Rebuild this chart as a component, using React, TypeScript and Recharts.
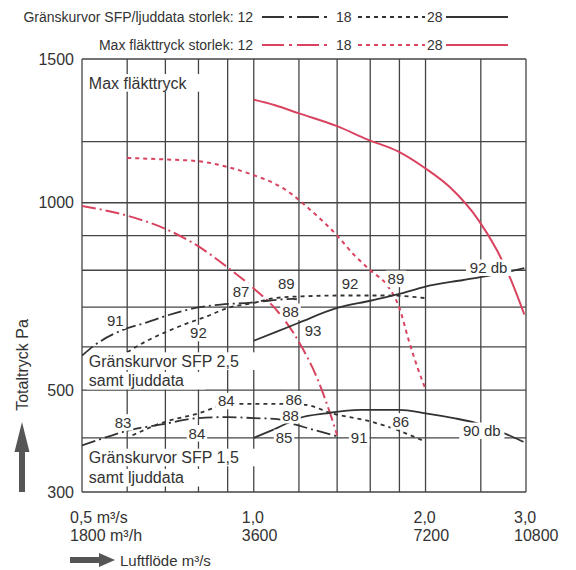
import React from 'react';
import { LineChart, Line, XAxis, YAxis, CartesianGrid, ReferenceDot } from 'recharts';

const FONT = "'Liberation Sans', Arial, Helvetica, sans-serif";
const INK = '#333';
const GRID = '#444';
const RED = '#d9435f';

// grid / tick values
const xGrid = [0.5, 0.6, 0.7, 0.8, 0.9, 1.0, 1.2, 1.4, 1.6, 1.8, 2.0, 2.5, 3.0];
const yGrid = [300, 400, 500, 600, 700, 800, 900, 1000, 1200, 1500];
const yLabelled = [300, 500, 1000, 1500];
const xLabelled = [0.5, 1.0, 2.0, 3.0];
const xTickTop = ['0,5 m³/s', '1,0', '2,0', '3,0'];
const xTickBottom = ['1800 m³/h', '3600', '7200', '10800'];

// Max fläkttryck, storlek 12 / 18 / 28  [m3/s, Pa]
const maxFan12 = [[0.5, 990], [0.6, 960], [0.7, 920], [0.8, 868], [0.9, 808], [1.0, 750], [1.1, 690], [1.2, 612], [1.29, 528], [1.38, 428], [1.4, 405]];
const maxFan18 = [[0.6, 1145], [0.7, 1140], [0.8, 1134], [0.9, 1115], [1.0, 1088], [1.09, 1060], [1.17, 1025], [1.21, 1003], [1.4, 900], [1.5, 843], [1.6, 800], [1.72, 755], [1.8, 698], [1.87, 615], [1.94, 548], [2.0, 502]];
const maxFan28 = [[1.0, 1348], [1.09, 1328], [1.2, 1299], [1.4, 1254], [1.58, 1208], [1.79, 1167], [2.0, 1110], [2.21, 1048], [2.48, 945], [2.67, 856], [2.81, 781], [2.98, 681]];

// Gränskurvor SFP 2,5
const sfp25_12 = [[0.5, 579], [0.526, 604], [0.59, 642], [0.65, 661], [0.7, 677], [0.79, 698], [0.875, 707], [0.99, 712], [1.06, 717], [1.17, 722], [1.19, 721]];
const sfp25_18 = [[0.6, 587], [0.65, 615], [0.7, 636], [0.76, 657], [0.83, 677], [0.9, 698], [0.99, 710], [1.09, 724], [1.23, 729], [1.44, 731], [1.72, 731], [2.0, 724]];
const sfp25_28 = [[1.0, 615], [1.1, 638], [1.2, 660], [1.4, 698], [1.6, 717], [1.8, 735], [2.0, 755], [2.33, 773], [2.67, 789], [2.98, 806]];

// Gränskurvor SFP 1,5
const sfp15_12 = [[0.5, 385], [0.565, 405], [0.6, 414], [0.69, 427], [0.8, 440], [0.9, 442], [1.0, 440], [1.1, 438], [1.18, 427], [1.4, 403]];
const sfp15_18 = [[0.613, 405], [0.69, 430], [0.8, 450], [0.88, 466], [0.95, 470], [1.07, 470], [1.23, 468], [1.37, 450], [1.6, 433], [1.8, 414], [2.0, 392]];
const sfp15_28 = [[1.0, 400], [1.1, 420], [1.2, 440], [1.34, 450], [1.54, 457], [1.8, 457], [2.0, 450], [2.24, 440], [2.45, 430], [2.84, 402], [2.97, 392]];

// sound level labels (dB) along the curves
const dbLabels = [
  { x: 0.572, y: 665, t: '91' }, { x: 0.8, y: 634, t: '92' }, { x: 0.95, y: 742, t: '87' },
  { x: 1.14, y: 763, t: '89' }, { x: 1.16, y: 688, t: '88' }, { x: 1.27, y: 640, t: '93' },
  { x: 1.475, y: 763, t: '92' }, { x: 1.775, y: 776, t: '89' }, { x: 2.58, y: 807, t: '92 db' },
  { x: 0.59, y: 431, t: '83' }, { x: 0.895, y: 476, t: '84' }, { x: 0.795, y: 409, t: '84' },
  { x: 1.175, y: 480, t: '86' }, { x: 1.16, y: 446, t: '88' }, { x: 1.13, y: 400, t: '85' },
  { x: 1.53, y: 400, t: '91' }, { x: 1.81, y: 433, t: '86' }, { x: 2.51, y: 414, t: '90 db' },
];

const notes = [
  { x: 0.514, y: 1410, t: 'Max fläkttryck' },
  { x: 0.514, y: 566, t: 'Gränskurvor SFP 2,5' },
  { x: 0.514, y: 521, t: 'samt ljuddata' },
  { x: 0.514, y: 362, t: 'Gränskurvor SFP 1,5' },
  { x: 0.514, y: 325, t: 'samt ljuddata' },
];

const toPts = (arr: number[][]) => arr.map(([x, y]) => ({ x, y }));

const DASHDOT = '14 4 2 4';
const DOTTED = '4 4';

const TextBox = ({ cx, cy, text, anchor, size }: any) => {
  const w = text.length * size * 0.55 + 4;
  const left = anchor === 'start' ? cx - 2 : cx - w / 2;
  return (
    <g>
      <rect x={left} y={cy - size * 0.55} width={w} height={size * 1.1} fill="#fff" />
      <text x={cx} y={cy} dy="0.36em" textAnchor={anchor} fontFamily={FONT} fontSize={size} fill={INK}>
        {text}
      </text>
    </g>
  );
};

const XTick = (props: any) => {
  const { x, y, payload } = props;
  const i = xLabelled.indexOf(payload.value);
  if (i < 0) return null;
  return (
    <text x={x - 12} y={y} fontFamily={FONT} fontSize={16} fill={INK}>
      <tspan x={x - 12} dy={23}>{xTickTop[i]}</tspan>
      <tspan x={x - 12} dy={18}>{xTickBottom[i]}</tspan>
    </text>
  );
};

const series = [
  { data: maxFan12, color: RED, dash: DASHDOT, w: 2 },
  { data: maxFan18, color: RED, dash: DOTTED, w: 2 },
  { data: maxFan28, color: RED, dash: undefined, w: 2 },
  { data: sfp25_12, color: INK, dash: DASHDOT, w: 1.8 },
  { data: sfp25_18, color: INK, dash: DOTTED, w: 1.8 },
  { data: sfp25_28, color: INK, dash: undefined, w: 1.8 },
  { data: sfp15_12, color: INK, dash: DASHDOT, w: 1.8 },
  { data: sfp15_18, color: INK, dash: DOTTED, w: 1.8 },
  { data: sfp15_28, color: INK, dash: undefined, w: 1.8 },
];

const Overlay = () => (
  <svg width={576} height={570} style={{ position: 'absolute', left: 0, top: 0, pointerEvents: 'none' }}>
    <g fontFamily={FONT} fontSize={14} fill={INK}>
      <text x={253} y={22} textAnchor="end">Gränskurvor SFP/ljuddata storlek: 12</text>
      <line x1={262} x2={330} y1={17} y2={17} stroke={INK} strokeWidth={2} strokeDasharray="22 5 3 5" />
      <text x={336} y={22}>18</text>
      <line x1={358} x2={425} y1={17} y2={17} stroke={INK} strokeWidth={2} strokeDasharray="4 4" />
      <text x={427} y={22}>28</text>
      <line x1={446} x2={508} y1={17} y2={17} stroke={INK} strokeWidth={2} />

      <text x={253} y={50} textAnchor="end">Max fläkttryck storlek: 12</text>
      <line x1={262} x2={330} y1={45} y2={45} stroke={RED} strokeWidth={2} strokeDasharray="22 5 3 5" />
      <text x={336} y={50}>18</text>
      <line x1={358} x2={425} y1={45} y2={45} stroke={RED} strokeWidth={2} strokeDasharray="4 4" />
      <text x={427} y={50}>28</text>
      <line x1={446} x2={508} y1={45} y2={45} stroke={RED} strokeWidth={2} />
    </g>
    {/* y axis title + arrow */}
    <text x={28} y={365} transform="rotate(-90 28 365)" textAnchor="middle" fontFamily={FONT} fontSize={16} fill={INK}>
      Totaltryck Pa
    </text>
    <polygon points="22,422 14.5,452 29.5,452" fill="#555" />
    <rect x={19} y={451} width={6} height={41} fill="#555" />
    {/* x axis title + arrow */}
    <rect x={70} y={557} width={30} height={6} fill="#555" />
    <polygon points="99,553 115,560 99,567" fill="#555" />
    <text x={120} y={566} fontFamily={FONT} fontSize={15} fill={INK}>Luftflöde m³/s</text>
  </svg>
);

export default function App() {
  return (
    <div style={{ position: 'absolute', left: 0, top: 0, width: 576, height: 570, background: '#fff' }}>
      <LineChart width={576} height={570} margin={{ top: 59, right: 50, bottom: 18, left: 22 }}>
        <CartesianGrid stroke={GRID} strokeWidth={1.3} />
        <XAxis
          dataKey="x"
          type="number"
          scale="log"
          domain={[0.5, 3]}
          allowDataOverflow
          ticks={xGrid}
          interval={0}
          tick={<XTick />}
          tickLine={false}
          axisLine={false}
          height={60}
        />
        <YAxis
          type="number"
          scale="sqrt"
          domain={[300, 1500]}
          allowDataOverflow
          ticks={yGrid}
          interval={0}
          tickFormatter={(v: number) => (yLabelled.includes(v) ? String(v) : '')}
          tick={{ fontSize: 16, fill: INK, fontFamily: FONT }}
          tickLine={false}
          axisLine={false}
          width={60}
        />
        {series.map((s, i) => (
          <Line
            key={i}
            data={toPts(s.data)}
            dataKey="y"
            type="monotone"
            stroke={s.color}
            strokeWidth={s.w}
            strokeDasharray={s.dash}
            dot={false}
            activeDot={false}
            isAnimationActive={false}
          />
        ))}
        {dbLabels.map((l, i) => (
          <ReferenceDot
            key={'db' + i}
            x={l.x}
            y={l.y}
            r={0}
            shape={(p: any) => <TextBox cx={p.cx} cy={p.cy} text={l.t} anchor="middle" size={15} />}
          />
        ))}
        {notes.map((l, i) => (
          <ReferenceDot
            key={'n' + i}
            x={l.x}
            y={l.y}
            r={0}
            shape={(p: any) => <TextBox cx={p.cx} cy={p.cy} text={l.t} anchor="start" size={16} />}
          />
        ))}
      </LineChart>
      <Overlay />
    </div>
  );
}
